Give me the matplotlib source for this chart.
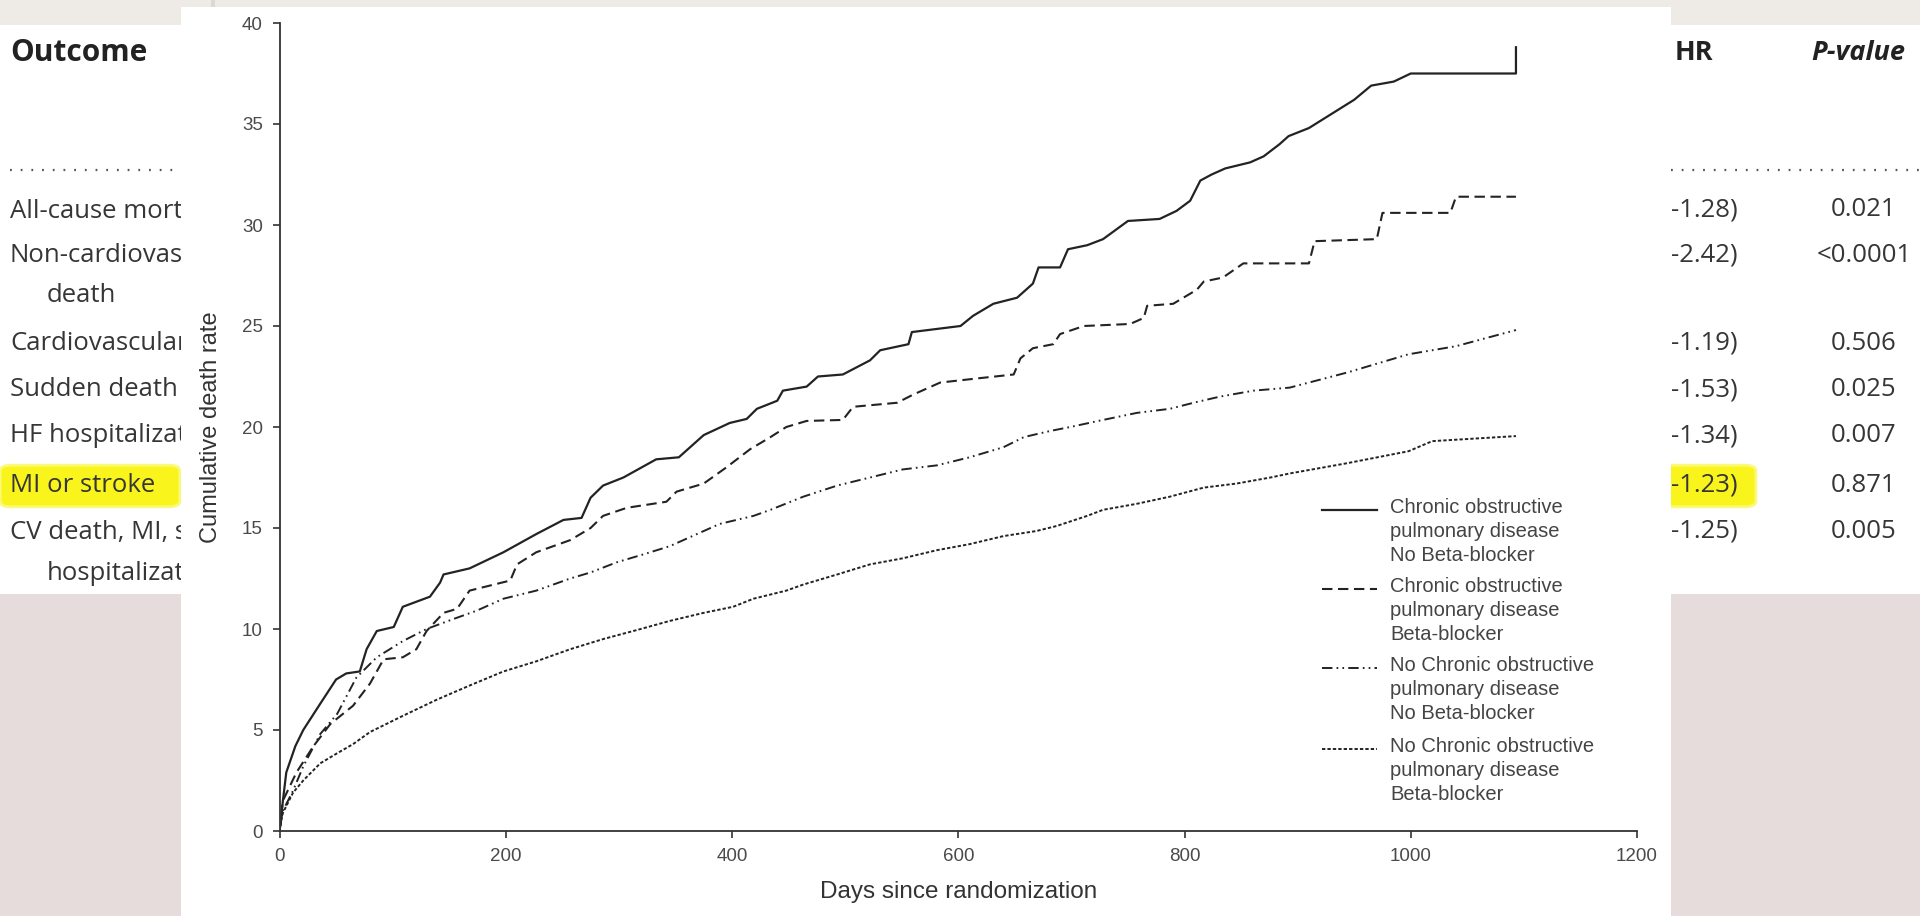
import matplotlib.pyplot as plt
from matplotlib.lines import Line2D
from matplotlib.patches import FancyBboxPatch, Rectangle
from matplotlib.transforms import Bbox, TransformedBbox

W, H = 1920, 916

# --- curve data (days since randomization, cumulative death rate) ---
copd_nobb_days = [0, 3, 6, 14, 21, 36, 50, 59, 71, 77, 86, 101, 109, 133, 142, 145, 168, 198,
                  227, 251, 267, 275, 286, 304, 333, 353, 375, 398, 413, 422, 440, 445, 466,
                  476, 498, 522, 531, 556, 559, 602, 613, 631, 652, 666, 671, 690, 697, 714,
                  728, 750, 778, 793, 805, 814, 824, 836, 858, 870, 884, 892, 910, 930, 950,
                  965, 985, 1000, 1093, 1093]
copd_nobb_vals = [0, 1.5, 2.9, 4.2, 5.0, 6.3, 7.5, 7.8, 7.9, 9.0, 9.9, 10.1, 11.1, 11.6, 12.3,
                  12.7, 13.0, 13.8, 14.7, 15.4, 15.5, 16.5, 17.1, 17.5, 18.4, 18.5, 19.6, 20.2,
                  20.4, 20.9, 21.3, 21.8, 22.0, 22.5, 22.6, 23.3, 23.8, 24.1, 24.7, 25.0, 25.5,
                  26.1, 26.4, 27.1, 27.9, 27.9, 28.8, 29.0, 29.3, 30.2, 30.3, 30.7, 31.2, 32.2,
                  32.5, 32.8, 33.1, 33.4, 34.0, 34.4, 34.8, 35.5, 36.2, 36.9, 37.1, 37.5, 37.5,
                  38.8]

copd_bb_days = [0, 3, 15, 30, 45, 65, 80, 92, 109, 121, 130, 145, 157, 168, 204, 210, 227, 257,
                275, 286, 307, 342, 351, 375, 395, 416, 434, 448, 466, 498, 507, 546, 560, 584,
                616, 649, 655, 666, 684, 690, 711, 752, 764, 767, 790, 802, 811, 817, 834, 852,
                910, 915, 970, 975, 1035, 1040, 1093]
copd_bb_vals = [0, 1.5, 2.9, 4.2, 5.3, 6.2, 7.3, 8.5, 8.6, 9.0, 9.9, 10.8, 11.0, 11.9, 12.4,
                13.2, 13.8, 14.4, 15.0, 15.6, 16.0, 16.3, 16.8, 17.2, 18.0, 18.9, 19.5, 20.0,
                20.3, 20.35, 21.0, 21.2, 21.6, 22.2, 22.4, 22.6, 23.4, 23.9, 24.1, 24.6, 25.0,
                25.1, 25.4, 26.0, 26.1, 26.5, 26.8, 27.2, 27.4, 28.1, 28.1, 29.2, 29.3, 30.6,
                30.6, 31.4, 31.4]

nocopd_nobb_days = [0, 3, 12, 21, 36, 51, 68, 86, 109, 130, 154, 174, 198, 227, 257, 275, 298,
                    322, 345, 369, 389, 419, 434, 463, 493, 522, 551, 581, 610, 640, 658, 681,
                    699, 728, 758, 787, 808, 831, 861, 893, 944, 998, 1040, 1093]
nocopd_nobb_vals = [0, 1.0, 2.0, 3.2, 4.8, 5.8, 7.6, 8.6, 9.4, 10.0, 10.5, 10.9, 11.5, 11.9,
                    12.5, 12.8, 13.3, 13.7, 14.1, 14.7, 15.2, 15.6, 15.9, 16.55, 17.1, 17.5,
                    17.9, 18.1, 18.5, 19.0, 19.5, 19.8, 20.0, 20.35, 20.7, 20.9, 21.2, 21.5,
                    21.8, 21.95, 22.7, 23.6, 24.0, 24.8]

nocopd_bb_days = [0, 3, 12, 21, 36, 51, 65, 80, 109, 139, 168, 198, 227, 257, 286, 316, 345,
                  375, 401, 419, 448, 463, 493, 522, 551, 581, 610, 640, 669, 687, 714, 728,
                  758, 787, 817, 846, 876, 893, 943, 998, 1019, 1093]
nocopd_bb_vals = [0, 0.9, 1.9, 2.5, 3.35, 3.85, 4.3, 4.9, 5.7, 6.5, 7.2, 7.9, 8.4, 9.0, 9.5,
                  9.95, 10.4, 10.8, 11.1, 11.5, 11.9, 12.2, 12.7, 13.2, 13.5, 13.9, 14.2, 14.6,
                  14.85, 15.1, 15.6, 15.9, 16.2, 16.55, 17.0, 17.2, 17.5, 17.7, 18.2, 18.8,
                  19.3, 19.55]

legend_labels = [
    "Chronic obstructive\npulmonary disease\nNo Beta-blocker",
    "Chronic obstructive\npulmonary disease\nBeta-blocker",
    "No Chronic obstructive\npulmonary disease\nNo Beta-blocker",
    "No Chronic obstructive\npulmonary disease\nBeta-blocker",
]

x_ticks = [0, 200, 400, 600, 800, 1000, 1200]
y_ticks = [0, 5, 10, 15, 20, 25, 30, 35, 40]

# --- table behind the chart (only the uncovered parts) ---
outcomes = ["All-cause mort", "Non-cardiovas", "death", "Cardiovascular", "Sudden death",
            "HF hospitalizat", "MI or stroke", "CV death, MI, s", "hospitalizati"]
hr_tails = ["-1.28)", "-2.42)", "-1.19)", "-1.53)", "-1.34)", "-1.23)", "-1.25)"]
p_values = ["0.021", "<0.0001", "0.506", "0.025", "0.007", "0.871", "0.005"]

plt.rcParams["lines.scale_dashes"] = False

fig = plt.figure(figsize=(W / 100, H / 100), dpi=100)
fig.patch.set_facecolor("#e6dcdb")


def fx(x):
    return x / W


def fy(y):
    return 1 - y / H


def add_rect(x0, y0, x1, y1, color, z):
    fig.add_artist(Rectangle((fx(x0), fy(y1)), (x1 - x0) / W, (y1 - y0) / H,
                             transform=fig.transFigure, facecolor=color,
                             edgecolor="none", zorder=z))


# slide background pieces
add_rect(0, 0, W, 25, "#eeeae6", 0)
add_rect(0, 25, W, 594, "white", 0)
add_rect(211, 0, 215, 8, "#dcd8d4", 0)

# highlight behind "MI or stroke"
for x0, x1 in [(4, 176), (1660, 1752)]:
    fig.add_artist(FancyBboxPatch((fx(x0), fy(505)), (x1 - x0) / W, 38 / H,
                                  boxstyle="round,pad=0.002,rounding_size=0.006",
                                  transform=fig.transFigure, facecolor="#f9f51c",
                                  edgecolor="#fbf97a", linewidth=2, zorder=1))

tfont = "Open Sans"
tcol = "#363636"
fig.text(fx(10), fy(53), "Outcome", fontsize=21.5, fontweight="bold", family=tfont,
         color="#222222", va="center", zorder=2)
fig.text(fx(1675), fy(53), "HR", fontsize=19.5, fontweight="bold", family=tfont,
         color="#222222", va="center", zorder=2)
fig.text(fx(1858), fy(53), "P-value", fontsize=19.5, fontweight="bold", style="italic",
         family=tfont, color="#222222", va="center", ha="center", zorder=2)

left_clip = TransformedBbox(Bbox([[0, 0], [fx(181), 1]]), fig.transFigure)
row_y = [212, 255, 296, 343, 390, 436, 485, 532, 574]
row_x = [10, 10, 47, 10, 10, 10, 10, 10, 47]
for label, x, y in zip(outcomes, row_x, row_y):
    t = fig.text(fx(x), fy(y), label, fontsize=18.5, family=tfont, color=tcol,
                 va="center", zorder=2)
    t.set_clip_box(left_clip)
    t.set_clip_on(True)

hr_y = [210, 255, 343, 390, 436, 485, 531]
for tail, p, y in zip(hr_tails, p_values, hr_y):
    fig.text(fx(1671), fy(y), tail, fontsize=18.5, family=tfont, color=tcol,
             va="center", zorder=2)
    fig.text(fx(1864), fy(y), p, fontsize=18.5, family=tfont, color=tcol,
             va="center", ha="center", zorder=2)

for x0, x1 in [(10, 181), (1671, 1920)]:
    fig.add_artist(Line2D([fx(x0), fx(x1)], [fy(170), fy(170)], transform=fig.transFigure,
                          color="#555555", linewidth=1.6, linestyle=(0, (1.3, 6.4)),
                          zorder=2))

# white panel holding the chart
add_rect(181, 7, 1671, H, "white", 4)

# --- chart ---
ax = fig.add_axes([fx(279.5), fy(831), (1637 - 279.5) / W, (831 - 23) / H])
ax.set_zorder(5)
ax.set_facecolor("white")

line_col = "#232323"
styles = [
    dict(linestyle="-", linewidth=1.6),
    dict(linestyle=(0, (7.5, 4)), linewidth=1.5),
    dict(linestyle=(0, (7.5, 3, 1.2, 3, 1.2, 3)), linewidth=1.4),
    dict(linestyle=(0, (2.4, 1.5)), linewidth=1.4),
]
series = [
    (copd_nobb_days, copd_nobb_vals),
    (copd_bb_days, copd_bb_vals),
    (nocopd_nobb_days, nocopd_nobb_vals),
    (nocopd_bb_days, nocopd_bb_vals),
]
for (days, vals), st in zip(series, styles):
    ax.plot(days, vals, color=line_col, **st)

ax.set_xlim(0, 1200)
ax.set_ylim(0, 40)
ax.set_xticks(x_ticks)
ax.set_yticks(y_ticks)
for side in ["top", "right"]:
    ax.spines[side].set_visible(False)
for side in ["left", "bottom"]:
    ax.spines[side].set_color("#333333")
    ax.spines[side].set_linewidth(1.3)
ax.tick_params(direction="out", length=5, width=1.2, color="#333333",
               labelsize=13.5, labelcolor="#4a4a4a", pad=7)
for lab in ax.get_xticklabels() + ax.get_yticklabels():
    lab.set_family("Liberation Sans")
ax.set_xlabel("Days since randomization", fontsize=17.5, family="Liberation Sans",
              color="#333333", labelpad=12)
ax.set_ylabel("Cumulative death rate", fontsize=17, family="Liberation Sans",
              color="#333333", labelpad=14)

# legend, drawn as keys plus three-line labels
entry_y = [510, 589, 668, 749]
for label, st, y in zip(legend_labels, styles, entry_y):
    fig.add_artist(Line2D([fx(1322), fx(1377)], [fy(y), fy(y)], transform=fig.transFigure,
                          color=line_col, zorder=6, **st))
    fig.text(fx(1390), fy(y - 12), label, fontsize=14.5, family="Liberation Sans",
             color="#444444", va="top", linespacing=1.34, zorder=6)

fig.savefig("out.png", dpi=100, facecolor=fig.get_facecolor())
